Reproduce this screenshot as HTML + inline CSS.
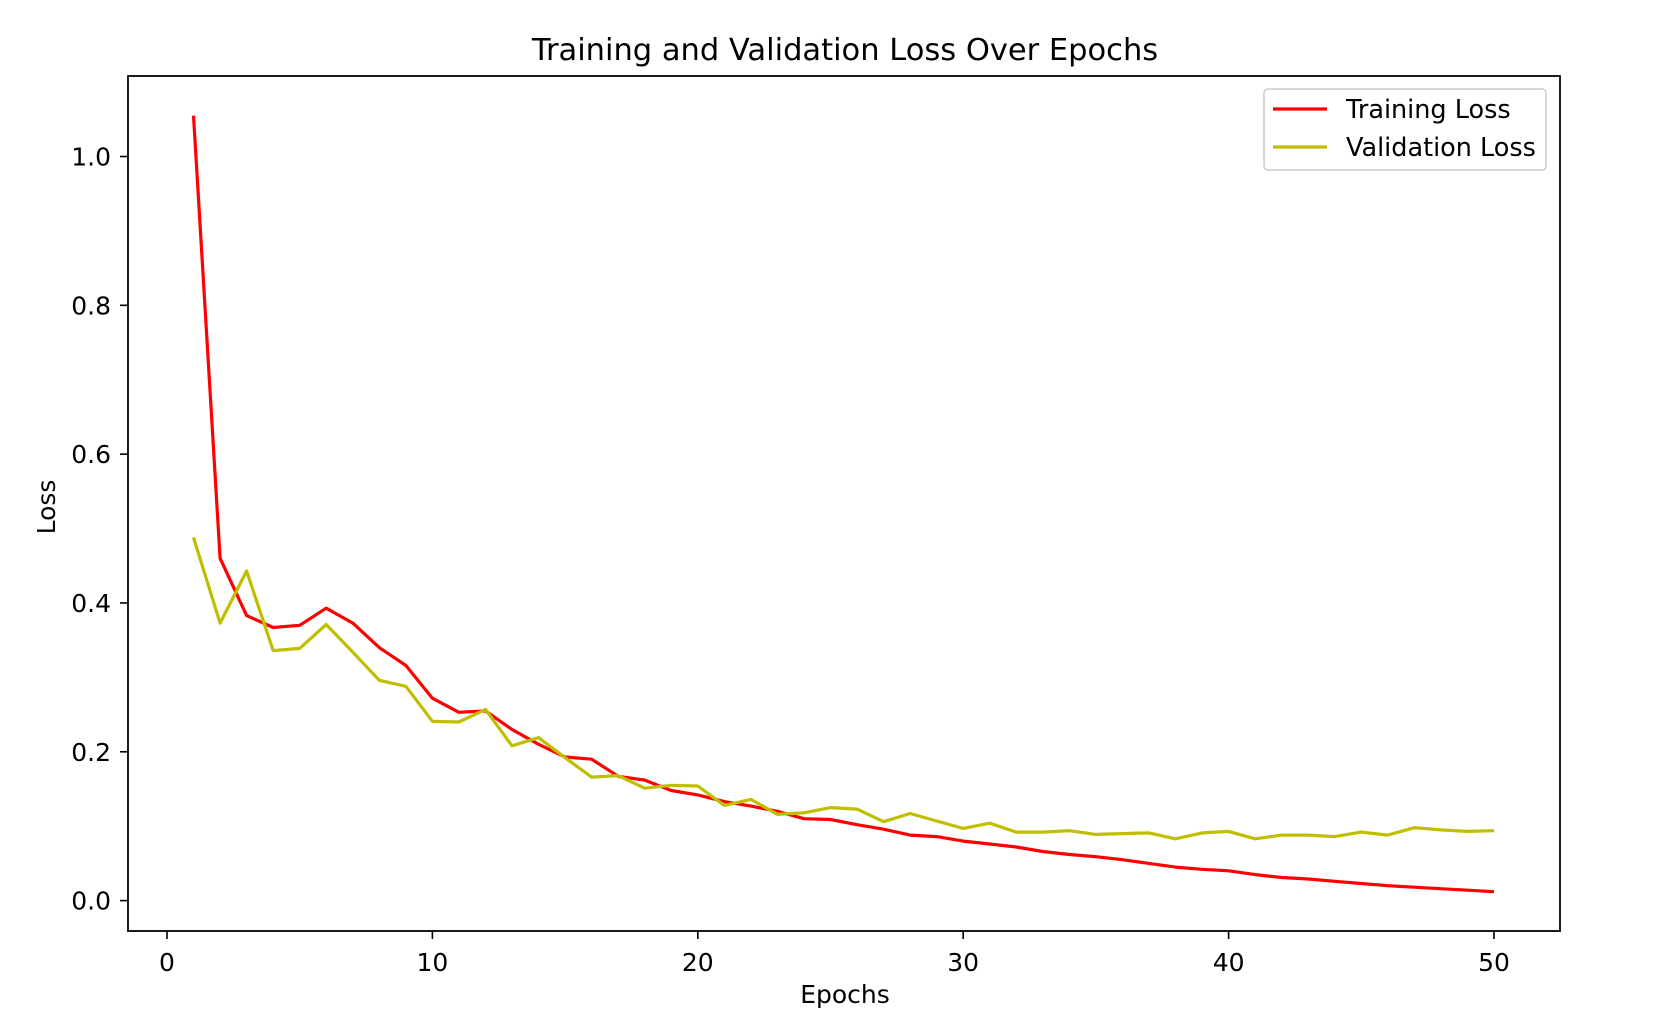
<!DOCTYPE html>
<html><head><meta charset="utf-8"><style>
html,body{margin:0;padding:0;background:#fff;}
svg{display:block;font-family:"DejaVu Sans","Liberation Sans",sans-serif;}
</style></head><body>
<svg id="s" width="1656" height="1028" viewBox="0 0 1656 1028" xmlns="http://www.w3.org/2000/svg">
<rect width="1656" height="1028" fill="#fff"/>
<text x="845" y="60" font-size="30.5" text-anchor="middle" fill="#000">Training and Validation Loss Over Epochs</text>
<g id="ticks" font-size="25" fill="#000"></g>
<polyline id="tr" fill="none" stroke="#ff0000" stroke-width="3.2" stroke-linejoin="round"/>
<polyline id="va" fill="none" stroke="#bfbf00" stroke-width="3.2" stroke-linejoin="round"/>
<rect x="128" y="76" width="1432" height="855" fill="none" stroke="#000" stroke-width="1.8"/>
<rect x="1264" y="89" width="282" height="81" rx="4" fill="#fff" stroke="#ccc" stroke-width="1.5"/>
<line x1="1273" y1="109" x2="1327" y2="109" stroke="#ff0000" stroke-width="3.2"/>
<line x1="1273" y1="147" x2="1327" y2="147" stroke="#bfbf00" stroke-width="3.2"/>
<text x="1346" y="118" font-size="25.5">Training Loss</text>
<text x="1346" y="156" font-size="25.5">Validation Loss</text>
<text x="845" y="1003" font-size="25" text-anchor="middle">Epochs</text>
<text transform="translate(55,507) rotate(-90)" font-size="25" text-anchor="middle">Loss</text>
</svg>
<script>
var tr=[1.055,0.46,0.383,0.367,0.37,0.393,0.373,0.34,0.316,0.272,0.253,0.255,0.23,0.21,0.193,0.19,0.167,0.162,0.148,0.142,0.133,0.127,0.12,0.11,0.109,0.102,0.096,0.088,0.086,0.08,0.076,0.072,0.066,0.062,0.059,0.055,0.05,0.045,0.042,0.04,0.035,0.031,0.029,0.026,0.023,0.02,0.018,0.016,0.014,0.012];
var va=[0.488,0.373,0.443,0.336,0.339,0.371,0.334,0.296,0.288,0.241,0.24,0.257,0.208,0.219,0.192,0.166,0.168,0.151,0.155,0.154,0.128,0.136,0.116,0.118,0.125,0.123,0.106,0.117,0.107,0.097,0.104,0.092,0.092,0.094,0.089,0.09,0.091,0.083,0.091,0.093,0.083,0.088,0.088,0.086,0.092,0.088,0.098,0.095,0.093,0.094];
function X(e){return 167+e*26.54;}
function Y(v){return 900.6-v*744.1;}
function pts(a){return a.map(function(v,i){return X(i+1).toFixed(1)+","+Y(v).toFixed(1);}).join(" ");}
document.getElementById("tr").setAttribute("points",pts(tr));
document.getElementById("va").setAttribute("points",pts(va));
var g=document.getElementById("ticks"),h="";
for(var e=0;e<=50;e+=10){var x=X(e);h+='<line x1="'+x+'" y1="931" x2="'+x+'" y2="939" stroke="#000" stroke-width="1.6"/><text x="'+x+'" y="971" text-anchor="middle">'+e+'</text>';}
for(var v=0;v<=1.0001;v+=0.2){var y=Y(v);h+='<line x1="120" y1="'+y+'" x2="128" y2="'+y+'" stroke="#000" stroke-width="1.6"/><text x="111" y="'+(y+9)+'" text-anchor="end">'+v.toFixed(1)+'</text>';}
g.innerHTML=h;
</script>
</body></html>
